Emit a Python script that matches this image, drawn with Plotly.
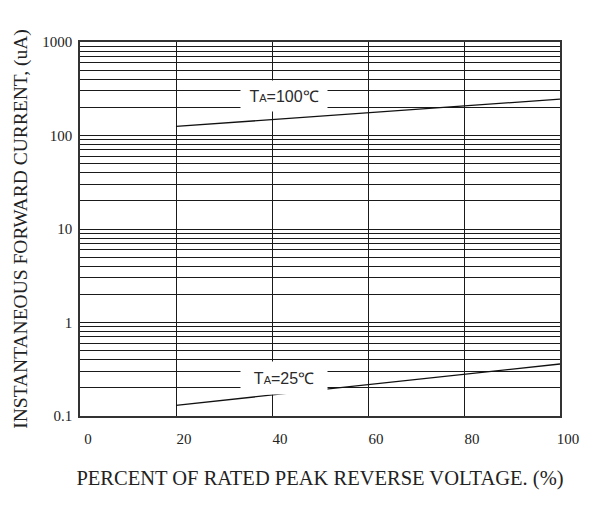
import plotly.graph_objects as go

# Data
x_pct = [20, 100]
i_100c = [125, 245]
i_25c = [0.13, 0.36]
x_ticks = [0, 20, 40, 60, 80, 100]
y_decades = [0.1, 1, 10, 100, 1000]
y_labels = ["0.1", "1", "10", "100", "1000"]

y_grid = []
for d in [0.1, 1, 10, 100]:
    for k in range(1, 10):
        y_grid.append(round(d * k, 4))
y_grid.append(1000)
y_text = [y_labels[y_decades.index(v)] if v in y_decades else "" for v in y_grid]

fig = go.Figure()
line_style = dict(color="#111", width=1.3)
fig.add_trace(go.Scatter(x=x_pct, y=i_100c, mode="lines", line=line_style, showlegend=False))
fig.add_trace(go.Scatter(x=x_pct, y=i_25c, mode="lines", line=line_style, showlegend=False))

ann_font = dict(family="Liberation Sans, Arial, sans-serif", size=16, color="#2a2a2a")
fig.add_annotation(x=42.4, y=2.42, xref="x", yref="y",
                   text="T<span style='font-size:11px'>A</span>=100℃",
                   showarrow=False, bgcolor="white", width=84, height=28, font=ann_font)
fig.add_annotation(x=42.4, y=-0.592, xref="x", yref="y",
                   text="T<span style='font-size:11px'>A</span>=25℃",
                   showarrow=False, bgcolor="white", width=84, height=30, font=ann_font)

serif = "Liberation Serif, Times New Roman, serif"
fig.update_layout(
    width=588, height=490,
    margin=dict(l=71, r=36, t=34, b=74),
    plot_bgcolor="white", paper_bgcolor="white",
    font=dict(family=serif, size=15, color="#222"),
    xaxis=dict(
        range=[0, 100], tickvals=x_ticks, ticktext=[str(v) for v in x_ticks],
        showgrid=True, gridcolor="#1a1a1a", gridwidth=1.3, zeroline=False,
        showline=True, linecolor="#333", linewidth=1.6, mirror=True,
        ticks="", ticklabelshift=8, ticklabelstandoff=8,
        tickfont=dict(family=serif, size=15, color="#222"),
        title=dict(text="PERCENT OF RATED PEAK REVERSE VOLTAGE. (%)",
                   font=dict(family=serif, size=20.5, color="#222"), standoff=25),
    ),
    yaxis=dict(
        type="log", range=[-1, 3], tickvals=y_grid, ticktext=y_text,
        showgrid=True, gridcolor="#1a1a1a", gridwidth=1.3, zeroline=False,
        showline=True, linecolor="#333", linewidth=1.6, mirror=True,
        ticks="", ticklabelstandoff=3,
        tickfont=dict(family=serif, size=15, color="#222"),
        title=dict(text="INSTANTANEOUS FORWARD CURRENT, (uA)",
                   font=dict(family=serif, size=19.5, color="#222"), standoff=9),
    ),
)

fig.write_html("out.html")
